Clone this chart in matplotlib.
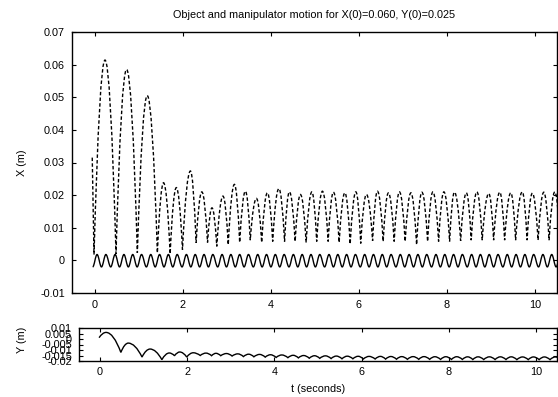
import matplotlib
matplotlib.use("Agg")
import matplotlib.pyplot as plt
from matplotlib.path import Path
from matplotlib.patches import PathPatch

plt.rcParams['font.family'] = ['Liberation Sans', 'DejaVu Sans']
FS = 7.8

# object X(t): start point, impact (landing) points and apex points of each flight arc
x_start = (-0.06, 0.0315)
land_t = [-0.02, 0.48, 0.965, 1.42, 1.71, 1.99, 2.30, 2.56, 2.77, 3.03,
          3.29, 3.53, 3.79, 4.04, 4.31, 4.55, 4.80, 5.04, 5.30, 5.55,
          5.80, 6.04, 6.31, 6.55, 6.80, 7.05, 7.31, 7.56, 7.81, 8.06,
          8.31, 8.55, 8.80, 9.06, 9.31, 9.56, 9.82, 10.07, 10.32, 10.57]
land_x = [0.0018, 0.0020, 0.0023, 0.0023, 0.0020, 0.0033, 0.0054, 0.0055, 0.0043, 0.0048,
          0.0055, 0.0062, 0.0055, 0.0058, 0.0058, 0.0058, 0.0055, 0.0058, 0.0058, 0.0055,
          0.0050, 0.0052, 0.0060, 0.0058, 0.0058, 0.0058, 0.0048, 0.0058, 0.0058, 0.0058,
          0.0060, 0.0062, 0.0062, 0.0062, 0.0062, 0.0062, 0.0062, 0.0062, 0.0062, 0.0062]
apex_t = [0.23, 0.72, 1.19, 1.56, 1.85, 2.17, 2.43, 2.66, 2.91, 3.17,
          3.42, 3.67, 3.92, 4.18, 4.42, 4.67, 4.93, 5.17, 5.42, 5.68,
          5.93, 6.17, 6.42, 6.67, 6.92, 7.18, 7.43, 7.68, 7.93, 8.17,
          8.44, 8.68, 8.95, 9.20, 9.45, 9.71, 9.94, 10.20, 10.45]
apex_x = [0.0614, 0.0585, 0.0505, 0.0238, 0.0223, 0.0274, 0.0210, 0.0161, 0.0197, 0.0233,
          0.0212, 0.0190, 0.0207, 0.0220, 0.0210, 0.0202, 0.0210, 0.0212, 0.0209, 0.0207,
          0.0210, 0.0202, 0.0212, 0.0207, 0.0210, 0.0207, 0.0209, 0.0210, 0.0210, 0.0209,
          0.0207, 0.0210, 0.0205, 0.0209, 0.0207, 0.0210, 0.0206, 0.0209, 0.0210]

# manipulator: times of troughs and peaks of its oscillation
manip_trough_t = [-0.05, 0.15, 0.36, 0.56, 0.76, 0.96, 1.17, 1.37, 1.57, 1.77,
                  1.98, 2.18, 2.38, 2.58, 2.79, 2.99, 3.19, 3.39, 3.60, 3.80,
                  4.00, 4.20, 4.41, 4.61, 4.81, 5.01, 5.22, 5.42, 5.62, 5.82,
                  6.03, 6.23, 6.43, 6.63, 6.84, 7.04, 7.24, 7.44, 7.65, 7.85,
                  8.05, 8.25, 8.46, 8.66, 8.86, 9.06, 9.27, 9.47, 9.67, 9.87,
                  10.08, 10.28, 10.48]
manip_peak_t = [0.05, 0.25, 0.46, 0.66, 0.86, 1.06, 1.27, 1.47, 1.67, 1.87,
                2.08, 2.28, 2.48, 2.68, 2.89, 3.09, 3.29, 3.49, 3.70, 3.90,
                4.10, 4.30, 4.51, 4.71, 4.91, 5.11, 5.32, 5.52, 5.72, 5.92,
                6.13, 6.33, 6.53, 6.73, 6.94, 7.14, 7.34, 7.54, 7.75, 7.95,
                8.15, 8.35, 8.56, 8.76, 8.96, 9.16, 9.37, 9.57, 9.77, 9.97,
                10.18, 10.38, 10.58]
manip_lo = -0.0020
manip_hi = 0.0018

# object Y(t): values at the impacts (cusps) and at the top of each arc
y_cusp = [0.0012, -0.0122, -0.0164, -0.0188, -0.0152, -0.0164, -0.0150, -0.0152, -0.0152, -0.0155,
          -0.0160, -0.0162, -0.0165, -0.0168, -0.0170, -0.0172, -0.0175, -0.0176, -0.0178, -0.0180,
          -0.0180, -0.0182, -0.0182, -0.0183, -0.0184, -0.0185, -0.0185, -0.0185, -0.0186, -0.0186,
          -0.0186, -0.0187, -0.0187, -0.0187, -0.0187, -0.0188, -0.0188, -0.0188, -0.0188, -0.0188]
y_peak_t = [0.14, 0.65, 1.15, 1.59, 1.83, 2.14, 2.43, 2.66, 2.90, 3.16,
            3.41, 3.66, 3.91, 4.17, 4.43, 4.67, 4.92, 5.17, 5.42, 5.67,
            5.92, 6.17, 6.43, 6.67, 6.92, 7.18, 7.43, 7.68, 7.93, 8.18,
            8.43, 8.67, 8.93, 9.18, 9.43, 9.69, 9.94, 10.19, 10.44]
y_peak = [0.0060, -0.0037, -0.0091, -0.0127, -0.0118, -0.0125, -0.0128, -0.0130, -0.0132, -0.0135,
          -0.0138, -0.0140, -0.0143, -0.0145, -0.0148, -0.0150, -0.0152, -0.0153, -0.0155, -0.0156,
          -0.0157, -0.0158, -0.0158, -0.0159, -0.0160, -0.0160, -0.0160, -0.0161, -0.0161, -0.0161,
          -0.0162, -0.0162, -0.0162, -0.0162, -0.0162, -0.0163, -0.0163, -0.0163, -0.0163]

top_yticks = [-0.01, 0, 0.01, 0.02, 0.03, 0.04, 0.05, 0.06, 0.07]
top_ylabels = ["-0.01", "0", "0.01", "0.02", "0.03", "0.04", "0.05", "0.06", "0.07"]
bot_yticks = [-0.02, -0.015, -0.01, -0.005, 0, 0.005, 0.01]
bot_ylabels = ["-0.02", "-0.015", "-0.01", "-0.005", "0", "0.005", "0.01"]
xticks = [0, 2, 4, 6, 8, 10]


def arc_path(t_pts, v_pts, pk_t, pk_v, start=None):
    # each flight arc drawn as two parabola halves meeting at the apex
    verts, codes = [], []
    if start is not None:
        verts += [start, (t_pts[0], v_pts[0])]
        codes += [Path.MOVETO, Path.LINETO]
    else:
        verts.append((t_pts[0], v_pts[0]))
        codes.append(Path.MOVETO)
    for i in range(len(pk_t)):
        t0, t1 = t_pts[i], t_pts[i + 1]
        tp, vp = pk_t[i], pk_v[i]
        verts += [((t0 + tp) / 2, vp), (tp, vp), ((tp + t1) / 2, vp), (t1, v_pts[i + 1])]
        codes += [Path.CURVE3] * 4
    return Path(verts, codes)


def wave_path(ext_t, ext_v):
    verts = [(ext_t[0], ext_v[0])]
    codes = [Path.MOVETO]
    for i in range(len(ext_t) - 1):
        t0, t1 = ext_t[i], ext_t[i + 1]
        d = (t1 - t0) * 0.3642
        verts += [(t0 + d, ext_v[i]), (t1 - d, ext_v[i + 1]), (t1, ext_v[i + 1])]
        codes += [Path.CURVE4] * 3
    return Path(verts, codes)


def style(ax, yticks, ylabels, pad_x):
    ax.set_xticks(xticks)
    ax.set_xticklabels([str(v) for v in xticks])
    ax.set_yticks(yticks)
    ax.set_yticklabels(ylabels)
    ax.tick_params(direction='in', length=3, width=0.8, top=True, right=True,
                   labelsize=FS, colors='black')
    ax.tick_params(axis='x', pad=pad_x)
    ax.tick_params(axis='y', pad=5)
    for s in ax.spines.values():
        s.set_linewidth(1.0)


fig = plt.figure(figsize=(5.58, 3.97), dpi=100)

ax1 = fig.add_axes([72 / 558, 1 - 293 / 397, 485 / 558, 261 / 397])
ext = sorted([(t, manip_lo) for t in manip_trough_t] + [(t, manip_hi) for t in manip_peak_t])
ax1.add_patch(PathPatch(wave_path([e[0] for e in ext], [e[1] for e in ext]),
                        fill=False, edgecolor='black', lw=1.0))
ax1.add_patch(PathPatch(arc_path(land_t, land_x, apex_t, apex_x, start=x_start),
                        fill=False, edgecolor='black', lw=1.0, linestyle=(0, (2.5, 1.6))))
ax1.set_xlim(-0.52, 10.5)
ax1.set_ylim(-0.01, 0.07)
style(ax1, top_yticks, top_ylabels, 5)

ax2 = fig.add_axes([79 / 558, 1 - 361 / 397, 478 / 558, 33 / 397])
ax2.add_patch(PathPatch(arc_path(land_t, y_cusp, y_peak_t, y_peak),
                        fill=False, edgecolor='black', lw=1.0))
ax2.set_xlim(-0.48, 10.48)
ax2.set_ylim(-0.02, 0.01)
style(ax2, bot_yticks, bot_ylabels, 4.5)

fig.text(314.5 / 558, 1 - 15 / 397, "Object and manipulator motion for X(0)=0.060, Y(0)=0.025",
         ha='center', va='center', fontsize=FS)
fig.text(22 / 558, 1 - 163 / 397, "X (m)", rotation=90, ha='center', va='center', fontsize=FS)
fig.text(22 / 558, 1 - 340 / 397, "Y (m)", rotation=90, ha='center', va='center', fontsize=FS)
fig.text(318 / 558, 1 - 389 / 397, "t (seconds)", ha='center', va='center', fontsize=FS)

fig.savefig("out.png", dpi=100)
